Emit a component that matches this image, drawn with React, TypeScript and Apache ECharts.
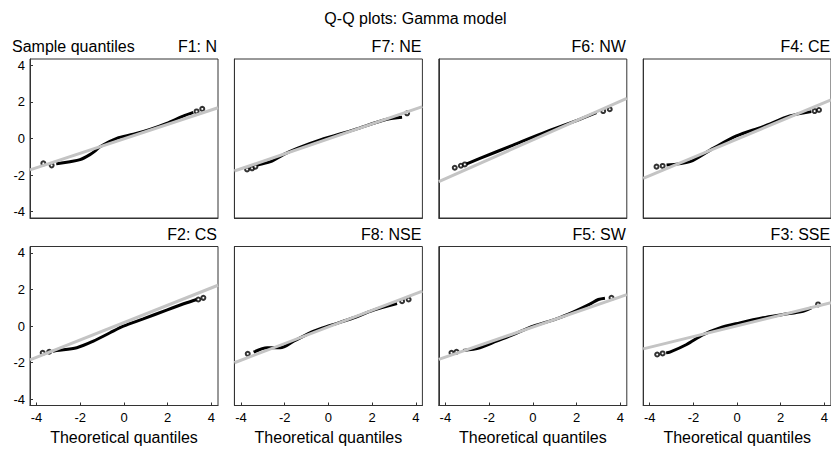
import React, { useEffect, useRef } from 'react';
import * as echarts from 'echarts';

const chartTitle = 'Q-Q plots: Gamma model';
const yAxisName = 'Sample quantiles';
const xAxisName = 'Theoretical quantiles';
const panelTitles = ['F1: N', 'F7: NE', 'F6: NW', 'F4: CE', 'F2: CS', 'F8: NSE', 'F5: SW', 'F3: SSE'];
const tickValues = [-4, -2, 0, 2, 4];

// Dense part of each Q-Q cloud (theoretical, sample)
const f1Band = [[-3.1, -1.38], [-2.93, -1.36], [-2.47, -1.27], [-2.01, -1.16], [-1.56, -0.88], [-1.3, -0.66], [-1.1, -0.45], [-0.33, 0.01], [0.43, 0.23], [1.19, 0.5], [1.95, 0.83], [2.71, 1.23], [3.17, 1.43]];
const f7Band = [[-3.26, -1.45], [-2.65, -1.27], [-2.04, -0.87], [-1.43, -0.54], [-0.37, -0.08], [1.16, 0.47], [2.68, 1.05], [3.37, 1.16]];
const f6Band = [[-3.05, -1.4], [-2.42, -1.09], [-0.9, -0.36], [0.63, 0.37], [2.15, 1.05], [2.91, 1.41]];
const f4Band = [[-3.23, -1.45], [-2.16, -1.27], [-1.1, -0.54], [-0.03, 0.14], [1.19, 0.65], [2.41, 1.23], [3.4, 1.47]];
const f2Band = [[-3.25, -1.38], [-3.08, -1.34], [-2.16, -1.19], [-1.4, -0.83], [-0.64, -0.37], [-0.03, -0.01], [0.88, 0.39], [1.95, 0.87], [2.87, 1.27], [3.33, 1.45]];
const f8Band = [[-3.42, -1.43], [-2.8, -1.19], [-2.2, -1.19], [-1.59, -0.83], [-0.67, -0.28], [0.09, 0.03], [1.16, 0.45], [2.07, 0.87], [3.14, 1.23]];
const f5Band = [[-3.19, -1.34], [-2.42, -1.19], [-1.66, -0.83], [-0.9, -0.47], [0.02, -0.01], [1.08, 0.39], [1.84, 0.76], [2.61, 1.2], [3.0, 1.45], [3.3, 1.52]];
const f3Band = [[-3.25, -1.47], [-3.08, -1.43], [-2.31, -1.01], [-1.55, -0.47], [-0.79, -0.1], [0.12, 0.17], [1.19, 0.45], [2.1, 0.63], [3.02, 0.81], [3.4, 0.99]];

// Isolated extreme points
const f1Tails = [[-3.69, -1.36], [-3.31, -1.47], [3.32, 1.48], [3.58, 1.62]];
const f7Tails = [[-3.72, -1.69], [-3.49, -1.63], [-3.34, -1.54], [3.6, 1.38]];
const f6Tails = [[-3.57, -1.6], [-3.29, -1.49], [-3.11, -1.42], [3.22, 1.5], [3.52, 1.6]];
const f4Tails = [[-3.69, -1.54], [-3.41, -1.5], [3.55, 1.5], [3.75, 1.56]];
const f2Tails = [[-3.72, -1.47], [-3.42, -1.41], [3.4, 1.45], [3.63, 1.54]];
const f8Tails = [[-3.69, -1.52], [3.37, 1.36], [3.67, 1.45]];
const f5Tails = [[-3.72, -1.47], [-3.49, -1.41], [3.6, 1.54]];
const f3Tails = [[-3.66, -1.56], [-3.41, -1.5], [3.71, 1.18]];

// Reference lines (end points)
const f1Ref = [[-4.3, -1.72], [4.3, 1.68]];
const f7Ref = [[-4.3, -1.78], [4.3, 1.74]];
const f6Ref = [[-4.3, -2.36], [4.3, 2.2]];
const f4Ref = [[-4.3, -2.18], [4.3, 2.11]];
const f2Ref = [[-4.3, -1.85], [4.3, 2.23]];
const f8Ref = [[-4.3, -2.01], [4.3, 1.91]];
const f5Ref = [[-4.3, -1.83], [4.3, 1.72]];
const f3Ref = [[-4.3, -1.25], [4.3, 1.27]];

const bands = [f1Band, f7Band, f6Band, f4Band, f2Band, f8Band, f5Band, f3Band];
const tails = [f1Tails, f7Tails, f6Tails, f4Tails, f2Tails, f8Tails, f5Tails, f3Tails];
const refs = [f1Ref, f7Ref, f6Ref, f4Ref, f2Ref, f8Ref, f5Ref, f3Ref];

const FONT = '"Liberation Sans", Arial, sans-serif';
const PANEL_W = 188;
const PANEL_H = 159;
const COL_STEP = 204.4;
const LEFT0 = 30;
const ROW_TOPS = [59, 246.5];

export default function App() {
  const ref = useRef<HTMLDivElement>(null);

  useEffect(() => {
    if (!ref.current) return;
    const chart = echarts.init(ref.current, null, { renderer: 'svg' });

    const grids: any[] = [];
    const xAxes: any[] = [];
    const yAxes: any[] = [];
    const series: any[] = [];
    const graphics: any[] = [];

    panelTitles.forEach((title, i) => {
      const row = Math.floor(i / 4);
      const col = i % 4;
      const left = LEFT0 + col * COL_STEP;
      const top = ROW_TOPS[row];
      grids.push({
        left, top, width: PANEL_W, height: PANEL_H,
        show: true, borderColor: '#333', borderWidth: 1, backgroundColor: 'transparent',
      });
      xAxes.push({
        gridIndex: i, type: 'value', min: -4.3, max: 4.3,
        axisLine: { show: true, onZero: false, lineStyle: { color: '#333', width: 1 } },
        axisTick: { show: row === 1, inside: true, length: 3, customValues: tickValues, lineStyle: { color: '#333' } },
        axisLabel: { show: row === 1, customValues: tickValues, fontSize: 13, color: '#000', fontFamily: FONT, margin: 5 },
        splitLine: { show: false },
      });
      yAxes.push({
        gridIndex: i, type: 'value', min: -4.35, max: 4.35,
        axisLine: { show: true, onZero: false, lineStyle: { color: '#333', width: 1 } },
        axisTick: { show: col === 0, inside: true, length: 3, customValues: tickValues, lineStyle: { color: '#333' } },
        axisLabel: { show: col === 0, customValues: tickValues, fontSize: 13, color: '#000', fontFamily: FONT, margin: 5 },
        splitLine: { show: false },
      });
      series.push({
        type: 'line', xAxisIndex: i, yAxisIndex: i, data: bands[i],
        showSymbol: false, smooth: 0.3, lineStyle: { color: '#000', width: 3 }, z: 2,
      });
      series.push({
        type: 'scatter', xAxisIndex: i, yAxisIndex: i, data: tails[i],
        symbol: 'emptyCircle', symbolSize: 4, itemStyle: { color: '#000', borderWidth: 1 }, z: 2,
      });
      series.push({
        type: 'line', xAxisIndex: i, yAxisIndex: i, data: refs[i],
        showSymbol: false, lineStyle: { color: '#c4c4c4', width: 3 }, z: 3,
      });
      graphics.push({
        type: 'text', x: left + PANEL_W - 1, y: row === 0 ? 46 : 234,
        style: { text: title, fill: '#000', fontSize: 16, fontFamily: FONT, align: 'right', verticalAlign: 'middle' },
      });
      if (row === 1) {
        graphics.push({
          type: 'text', x: left + PANEL_W / 2, y: 437,
          style: { text: xAxisName, fill: '#000', fontSize: 16, fontFamily: FONT, align: 'center', verticalAlign: 'middle' },
        });
      }
    });

    graphics.push({
      type: 'text', x: 415.5, y: 18,
      style: { text: chartTitle, fill: '#000', fontSize: 16, fontFamily: FONT, align: 'center', verticalAlign: 'middle' },
    });
    graphics.push({
      type: 'text', x: 12, y: 46,
      style: { text: yAxisName, fill: '#000', fontSize: 16, fontFamily: FONT, align: 'left', verticalAlign: 'middle' },
    });

    chart.setOption({
      animation: false,
      backgroundColor: '#fff',
      grid: grids,
      xAxis: xAxes,
      yAxis: yAxes,
      series,
      graphic: graphics,
    });

    return () => chart.dispose();
  }, []);

  return (
    <div
      ref={ref}
      style={{ position: 'fixed', left: 0, top: 0, width: 831, height: 449 }}
    />
  );
}
